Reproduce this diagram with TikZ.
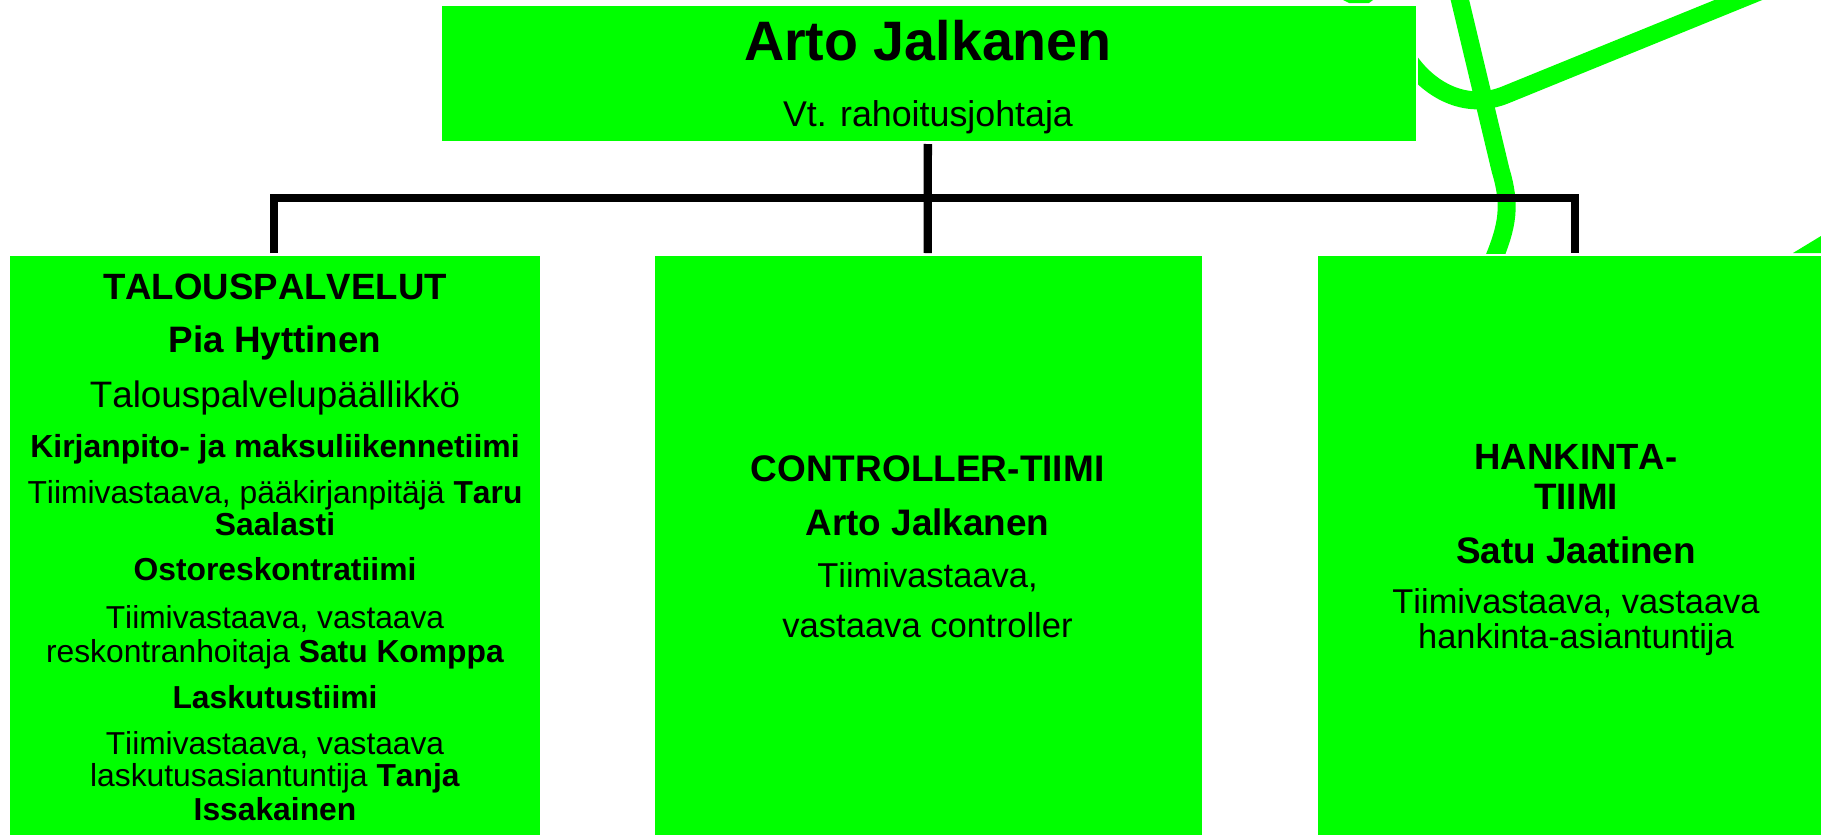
\documentclass[tikz,border=0pt]{standalone}
\usepackage{fontspec}
\setmainfont[Kerning=Off]{Liberation Sans}
\definecolor{orggreen}{HTML}{00FF00}
% one centred line: distance from the previous baseline, font size, text
\newdimen\linesh \linesh=0pt
\newcommand{\tl}[3]{\hbox to \hsize{\hskip\linesh\hss\vrule width 0pt height #1pt depth 0pt\smash{\fontsize{#2pt}{#2pt}\selectfont #3}\hss}}
\newcommand{\boxtext}[3]{\vbox to #2pt{\hsize=#1pt\offinterlineskip #3\vss}}
\tikzset{
  orgbox/.style={fill=orggreen, draw=none, inner sep=0pt, outer sep=0pt, anchor=north west, text=black},
  conn/.style={draw=black, line width=8.4pt, line cap=butt, line join=miter},
  swirl/.style={draw=orggreen, line width=18pt, line cap=butt}
}
\begin{document}
\begin{tikzpicture}[x=1pt,y=-1pt]
\useasboundingbox (0,0) rectangle (1821,835);
\begin{scope}
  \clip (1418,0) rectangle (1821,253);
  \draw[swirl] (1458,-8) -- (1500.5,170) .. controls (1511,205) and (1508,225) .. (1492.5,262);
  \draw[swirl] (1408,59) .. controls (1428,89) and (1465,111) .. (1505,95) -- (1790,-21);
  \fill[orggreen] (1793,253) -- (1821,236) -- (1821,253) -- cycle;
\end{scope}
\fill[orggreen] (1343,0) -- (1349,3) -- (1369,3) -- (1373,0) -- cycle;
\node[orgbox] (top) at (442,6) {\boxtext{974}{135}{%
  \linesh=-2pt
  \tl{54}{55.6}{\textbf{Arto Jalkanen}}
  \tl{66}{35.8}{Vt. rahoitusjohtaja}}};
\node[orgbox] (talous) at (10,256) {\boxtext{530}{579}{%
  \tl{43}{36.6}{\textbf{TALOUSPALVELUT}}
  \tl{53}{36.8}{\textbf{Pia Hyttinen}}
  \tl{55}{36.8}{Talouspalvelupäällikkö}
  \tl{50}{31.9}{\textbf{Kirjanpito- ja maksuliikennetiimi}}
  \tl{46}{31.8}{Tiimivastaava, pääkirjanpitäjä \textbf{Taru}}
  \tl{32}{31.8}{\textbf{Saalasti}}
  \tl{45}{31.8}{\textbf{Ostoreskontratiimi}}
  \tl{48}{31.7}{Tiimivastaava, vastaava}
  \tl{34}{31.8}{reskontranhoitaja \textbf{Satu Komppa}}
  \tl{46}{31.8}{\textbf{Laskutustiimi}}
  \tl{46}{31.7}{Tiimivastaava, vastaava}
  \tl{32}{31.8}{laskutusasiantuntija \textbf{Tanja}}
  \tl{34}{31.8}{\textbf{Issakainen}}}};
\node[orgbox] (controller) at (655,256) {\boxtext{547}{579}{%
  \linesh=-2pt
  \tl{225}{37}{\textbf{CONTROLLER-TIIMI}}
  \tl{54}{36.9}{\textbf{Arto Jalkanen}}
  \tl{52}{34.5}{Tiimivastaava,}
  \tl{50}{34.6}{vastaava controller}}};
\node[orgbox] (hankinta) at (1318,256) {\boxtext{503}{579}{%
  \linesh=13pt
  \tl{213}{36.5}{\textbf{HANKINTA-}}
  \tl{40}{36.8}{\textbf{TIIMI}}
  \tl{54}{36.9}{\textbf{Satu Jaatinen}}
  \tl{50}{34.4}{Tiimivastaava, vastaava}
  \tl{35}{34.4}{hankinta-asiantuntija}}};
\coordinate (busL) at (274,198);
\coordinate (busR) at (1575,198);
\draw[conn] ([xshift=-1pt,yshift=3pt]talous.north) -- (busL) -- (busR) -- ([xshift=5.5pt,yshift=3pt]hankinta.north);
\draw[conn] ([xshift=-1.2pt,yshift=-3pt]top.south) -- ([xshift=-0.8pt,yshift=3pt]controller.north);
\end{tikzpicture}
\end{document}
